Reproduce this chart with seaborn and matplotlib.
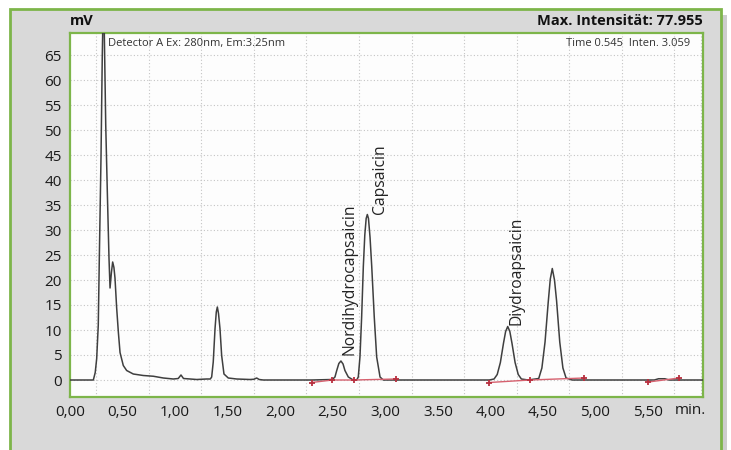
import matplotlib
matplotlib.use("Agg")
import matplotlib.pyplot as plt
import numpy as np
import pandas as pd
import seaborn as sns
from matplotlib.patches import Rectangle
from matplotlib.ticker import MultipleLocator

# ---- chromatogram trace (retention time in min, signal in mV) ----
max_intensity = 77.955

time_min = [
    0.000, 0.200, 0.222, 0.240, 0.254, 0.269, 0.279, 0.295, 0.307, 0.318,
    0.326, 0.340, 0.355, 0.371, 0.381, 0.394, 0.406, 0.418, 0.428, 0.444,
    0.460, 0.476, 0.507, 0.539, 0.602, 0.697, 0.793, 0.888, 0.983, 1.030,
    1.056, 1.080, 1.206, 1.300, 1.335, 1.348, 1.363, 1.380, 1.392, 1.402,
    1.413, 1.427, 1.443, 1.465, 1.506, 1.586, 1.713, 1.750, 1.776, 1.800,
    1.839, 2.300, 2.496, 2.521, 2.538, 2.558, 2.578, 2.598, 2.616, 2.648,
    2.695, 2.728, 2.743, 2.759, 2.775, 2.791, 2.805, 2.818, 2.829, 2.840,
    2.855, 2.871, 2.895, 2.918, 2.950, 2.981, 3.100, 3.990, 4.035, 4.065,
    4.095, 4.125, 4.145, 4.165, 4.185, 4.205, 4.235, 4.265, 4.295, 4.360,
    4.460, 4.490, 4.520, 4.550, 4.570, 4.589, 4.610, 4.630, 4.660, 4.690,
    4.720, 4.780, 5.560, 5.600, 5.660, 5.700, 6.023,
]
signal_mv = [
    0.0, 0.0, 0.0, 1.5, 4.3, 11.0, 24.4, 44.5, 64.6, max_intensity,
    70.0, 51.0, 37.7, 24.4, 18.4, 21.5, 23.6, 22.5, 20.4, 14.4,
    9.6, 5.5, 2.9, 1.9, 1.2, 0.9, 0.75, 0.4, 0.2, 0.3,
    1.0, 0.3, 0.1, 0.2, 0.2, 0.6, 3.6, 10.3, 13.6, 14.6,
    13.3, 10.3, 4.9, 1.2, 0.4, 0.2, 0.1, 0.15, 0.4, 0.1,
    0.0, 0.0, 0.1, 0.6, 1.9, 3.3, 3.8, 3.2, 1.9, 0.6,
    0.0, 0.0, 0.6, 4.6, 12.6, 22.7, 29.0, 32.3, 33.1, 32.3,
    28.5, 22.7, 12.6, 4.6, 0.6, 0.0, 0.0, 0.0, 0.2, 1.1,
    3.5, 7.4, 9.7, 10.7, 9.7, 7.4, 3.5, 1.1, 0.2, 0.0,
    0.3, 2.4, 7.6, 15.5, 20.2, 22.3, 20.0, 15.8, 7.6, 2.4,
    0.4, 0.0, 0.0, 0.25, 0.25, 0.0, 0.0,
]

# ---- integration baselines (start / split / end marks) ----
baseline_groups = [
    ([2.300, 2.496, 2.702, 3.099], [-0.5, 0.0, 0.0, 0.2]),
    ([3.990, 4.376, 4.890], [-0.5, 0.0, 0.4]),
    ([5.502, 5.797], [-0.4, 0.4]),
]

# ---- axis labels ----
x_ticks = [0.0, 0.5, 1.0, 1.5, 2.0, 2.5, 3.0, 3.5, 4.0, 4.5, 5.0, 5.5]
x_tick_labels = ["0,00", "0,50", "1,00", "1,50", "2,00", "2,50", "3,00",
                 "3.50", "4,00", "4,50", "5,00", "5,50"]
y_ticks = list(range(0, 70, 5))

peak_names = ["Nordihydrocapsaicin", "Capsaicin", "Diydroapsaicin"]
peak_label_at = [(2.655, 5.0), (2.950, 33.3), (4.253, 11.0)]

trace = pd.DataFrame({"time": time_min, "mV": signal_mv})

sns.set_theme(style="white")
plt.rcParams["font.family"] = ["Open Sans", "DejaVu Sans"]

W, H = 731, 450
fig = plt.figure(figsize=(W / 100, H / 100), dpi=100, facecolor="white")

green = "#7db54a"
panel = "#d9d9d9"

# drop shadow on the right of the panel, then the panel itself
fig.patches.append(Rectangle((722 / W, -0.1), 5 / W, 1.1 - 15 / H,
                             transform=fig.transFigure, facecolor="#cdcdcd",
                             edgecolor="none", zorder=0))
fig.patches.append(Rectangle((10 / W, -0.1), 711 / W, 1.1 - 9 / H,
                             transform=fig.transFigure, facecolor=panel,
                             edgecolor=green, linewidth=2.0, zorder=1))

ax = fig.add_axes([70 / W, 1 - 397 / H, 633 / W, 364 / H])
ax.set_facecolor("#fdfdfd")
ax.set_zorder(2)

sns.lineplot(data=trace, x="time", y="mV", ax=ax, color="#3f3f3f",
             linewidth=1.1, estimator=None, sort=False, zorder=3)

for xs, ys in baseline_groups:
    seg = pd.DataFrame({"time": xs, "mV": ys})
    sns.lineplot(data=seg, x="time", y="mV", ax=ax, color="#d6616f",
                 linewidth=1.0, estimator=None, sort=False, zorder=4)
    ax.plot(seg["time"], seg["mV"], linestyle="none", marker="+",
            markersize=5, markeredgewidth=1.3, color="#b8303f", zorder=5)

ax.set_xlim(0, 6.023)
ax.set_ylim(-3.4, 69.4)
ax.set_xlabel("")
ax.set_ylabel("")

ax.set_xticks(x_ticks)
ax.set_xticklabels(x_tick_labels)
ax.set_yticks(y_ticks)
ax.set_yticklabels([str(v) for v in y_ticks])
ax.xaxis.set_minor_locator(MultipleLocator(0.25))
ax.tick_params(axis="both", which="both", length=0, labelsize=11,
               labelcolor="#1a1a1a")
ax.tick_params(axis="x", pad=6)
ax.tick_params(axis="y", pad=6)

grid_kw = dict(color="#c4c4c4", linewidth=0.8, linestyle=(0, (1, 2)))
ax.grid(False)
ax.xaxis.grid(True, which="minor", **grid_kw)
ax.yaxis.grid(True, which="major", **grid_kw)
ax.set_axisbelow(True)

for s in ax.spines.values():
    s.set_color(green)
    s.set_linewidth(1.6)
    s.set_visible(True)

ax.annotate("min.", xy=(5.90, 0), xycoords=ax.get_xaxis_transform(),
            xytext=(0, -6), textcoords="offset pixels", ha="center",
            va="top", fontsize=11, color="#1a1a1a")

for name, (tx, ty) in zip(peak_names, peak_label_at):
    ax.text(tx, ty, name, rotation=90, ha="center", va="bottom",
            fontsize=11.25, color="#222222", zorder=6)

ax.text(0.060, 0.9725, "Detector A Ex: 280nm, Em:3.25nm",
        transform=ax.transAxes, ha="left", va="center", fontsize=8,
        color="#333333")
ax.text(0.979, 0.9725, "Time 0.545  Inten. 3.059",
        transform=ax.transAxes, ha="right", va="center", fontsize=8,
        color="#333333")

fig.text(82 / W, 1 - 21 / H, "mV", ha="center", va="center",
         fontsize=10.5, fontweight="bold", color="#111111", zorder=3)
fig.text(703 / W, 1 - 21 / H, f"Max. Intensität: {max_intensity:.3f}",
         ha="right", va="center", fontsize=10.5, fontweight="bold",
         color="#111111", zorder=3)

fig.savefig("out.png", dpi=100, facecolor="white")
